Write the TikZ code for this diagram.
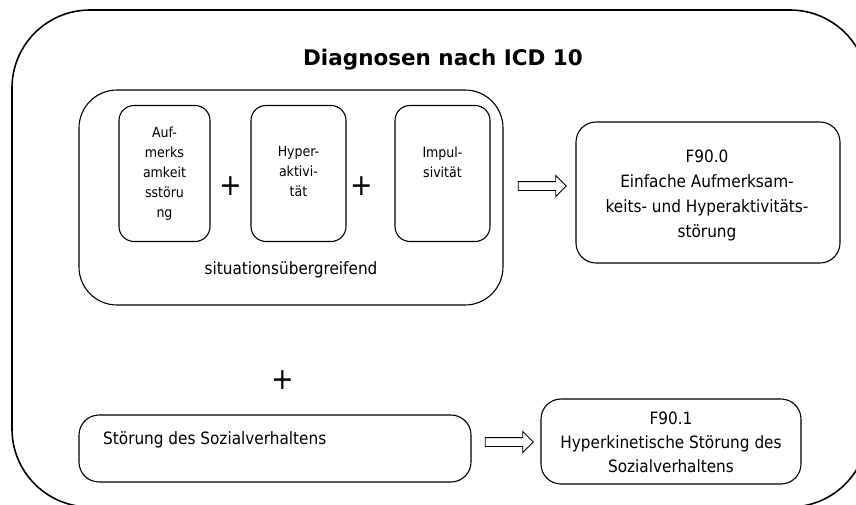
\documentclass[tikz,border=0pt]{standalone}
\usepackage{fontspec}
\setmainfont{DejaVu Sans Condensed}
\newfontfamily\titlefont{DejaVu Sans}
\usetikzlibrary{shapes.arrows}
\begin{document}
\begin{tikzpicture}[x=1pt,y=-1pt,
  outerbox/.style={draw,line width=1.6pt,rounded corners=78},
  groupbox/.style={draw,line width=1.1pt,rounded corners=38},
  smallbox/.style={draw,line width=1.1pt,rounded corners=15},
  bigbox/.style={draw,line width=1.1pt,rounded corners=20},
  txt/.style={font=\fontsize{14}{20}\selectfont,align=center,inner sep=0},
  bigtxt/.style={font=\fontsize{17}{25}\selectfont,align=center,inner sep=0},
  plus/.style={font=\fontsize{30}{30}\selectfont,inner sep=0},
  blockarrow/.style={single arrow,draw,line width=0.9pt,minimum height=48,minimum width=20,
     single arrow head extend=6,inner sep=4,single arrow tip angle=90}
]
\useasboundingbox (0,0) rectangle (856,504);
\clip (0,0) rectangle (856,504);
\fill[white] (0,0) rectangle (856,504);
\draw[outerbox] (12,10) rectangle (868,507);
\node[font=\titlefont\fontsize{21.5}{24}\selectfont\bfseries,inner sep=0] (title) at (443,60) {Diagnosen nach ICD 10};
\draw[groupbox] (79,90) rectangle (503,305);
\node[smallbox,minimum width=91,minimum height=136] (b1) at (164.5,173.5) {};
\node[smallbox,minimum width=95,minimum height=136] (b2) at (298.5,173.5) {};
\node[smallbox,minimum width=95,minimum height=136] (b3) at (442.5,173.5) {};
\node[txt,anchor=north] (t1) at (164.5,126.5) {Auf-\\merks\\amkeit\\sstöru\\ng};
\node[txt,anchor=north] (t2) at (298.5,146.5) {Hyper-\\aktivi-\\tät};
\node[txt,anchor=north] (t3) at (442.5,146.5) {Impul-\\sivität};
\node[plus] (p1) at (231,186) {+};
\node[plus] (p2) at (362,186) {+};
\node[bigtxt] (sit) at (291,270) {situationsübergreifend};
\node[blockarrow] (a1) at (540,186) {};
\node[bigbox,minimum width=264,minimum height=141] (f0) at (708,192.5) {};
\node[bigtxt,anchor=north] (f0t) at (707,150) {F90.0\\Einfache Aufmerksam-\\keits- und Hyperaktivitäts-\\störung};
\node[plus] (p3) at (283,380) {+};
\node[bigbox,minimum width=392,minimum height=67] (st) at (275,448.5) {};
\node[bigtxt,anchor=west] (stt) at (103,440) {Störung des Sozialverhaltens};
\node[blockarrow] (a2) at (507,442) {};
\node[bigbox,minimum width=260,minimum height=85] (f1) at (671,441.5) {};
\node[bigtxt,anchor=north,font=\fontsize{17}{24}\selectfont] (f1t) at (671,412) {F90.1\\Hyperkinetische Störung des\\Sozialverhaltens};
\end{tikzpicture}
\end{document}
